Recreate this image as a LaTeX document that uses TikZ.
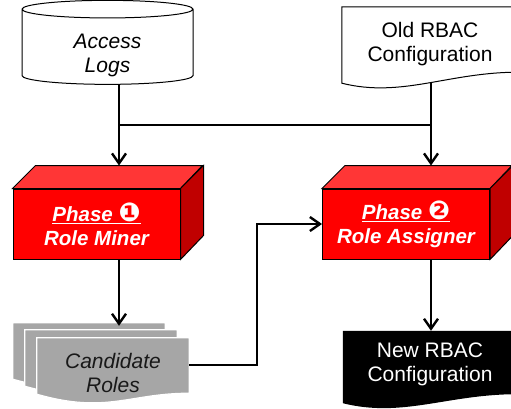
\documentclass[tikz,border=0pt]{standalone}
\usepackage{fontspec}
\setmainfont{Liberation Sans}
\newfontfamily\dingfont{DejaVu Sans}
\usetikzlibrary{shapes.geometric,arrows.meta,calc,backgrounds}
\definecolor{phasefront}{HTML}{FF0000}
\definecolor{phasetop}{HTML}{FF3636}
\definecolor{phaseside}{HTML}{C00000}
\definecolor{sheetgray}{HTML}{A6A6A6}

\begin{document}
\begin{tikzpicture}[x=1pt,y=-1pt,
  txt/.style={align=center,inner sep=0pt,font=\fontsize{21}{24}\selectfont},
  store/.style={txt,cylinder,shape border rotate=90,aspect=0.26,draw,line width=1pt,fill=white,minimum width=171pt,minimum height=84pt},
  doc/.style={txt,minimum width=176pt},
  sheet/.style={txt,minimum width=152pt,minimum height=69pt,font=\fontsize{21}{24}\selectfont\itshape},
  phase/.style={draw,line width=1pt,fill=phasefront,text=white,align=center,inner sep=0pt,minimum width=167pt,minimum height=70pt,font=\fontsize{20.5}{24}\selectfont\bfseries\itshape},
  topface/.style={draw,line width=1pt,fill=phasetop},
  sideface/.style={draw,line width=1pt,fill=phaseside},
  docpath/.style n args={3}{insert path={(#1.north west) -- (#1.north east) -- ($(#1.south east)+(0,#2)$) .. controls +(-70,0) and +(60,15) .. ($(#1.south west)+(0,#3)$) -- cycle}},
  sheetpath/.style={insert path={(#1.north west) -- (#1.north east) -- ($(#1.south east)+(0,-14)$) .. controls +(-60,0) and +(70,20) .. ($(#1.south west)+(0,-13)$) -- cycle}},
  link/.style={line width=2.4pt},
  arr/.style={link,-{Straight Barb[length=10pt,width=14pt]}}]
\useasboundingbox (0,0) rectangle (511,409);
\clip (0,0) rectangle (511,409);

% inputs
\node[store] (logs) at (107.5,47) {\phantom{Access}\\\phantom{Logs}};
\node[txt,font=\fontsize{21}{24}\selectfont\itshape] (logstext) at ($(logs)+(0,8)$) {Access\\Logs};
\node[doc,minimum height=74pt] (old) at (430,44) {Old RBAC\\Configuration};

% the two phases
\newcommand{\phasenum}[1]{{\dingfont\fontsize{26}{24}\selectfont\symbol{#1}}}
\node[phase] (p1) at (96.5,224) {\underline{Phase \phasenum{"2776}}\\Role Miner};
\draw[topface] (p1.north west) -- ++(23,-23) coordinate (p1back) -- ++(167,0) -- (p1.north east) -- cycle;
\draw[sideface] (p1.north east) -- ++(23,-23) -- ++(0,70) -- (p1.south east) -- cycle;
\node[phase] (p2) at (406,224) {\underline{Phase \phasenum{"2777}}\\Role Assigner};
\draw[topface] (p2.north west) -- ++(23,-23) coordinate (p2back) -- ++(167,0) -- (p2.north east) -- cycle;
\draw[sideface] (p2.north east) -- ++(23,-23) -- ++(0,70) -- (p2.south east) -- cycle;

% outputs
\node[sheet] (sheetc) at (89,357.5) {};
\node[sheet] (sheetb) at (101,364.5) {};
\node[sheet,text=black!90] (cand) at (113,372.5) {Candidate\\Roles};
\node[doc,minimum width=174pt,minimum height=67pt,text=white] (new) at (430,364.5) {New RBAC\\Configuration};

\begin{scope}[on background layer]
\draw[line width=1pt,fill=white,docpath={old}{-9}{2}];
\fill[black,docpath={new}{-4}{5}];
\draw[white,line width=1.2pt,fill=sheetgray,sheetpath=sheetc];
\draw[white,line width=1.2pt,fill=sheetgray,sheetpath=sheetb];
\draw[white,line width=1.2pt,fill=sheetgray,sheetpath=cand];
\end{scope}

\coordinate (jl) at (119,125);
\coordinate (jr) at (431,125);
\draw[link] (jl) -- (jr);
\draw[arr] (logs.south -| jl) -- (jl) -- (jl |- p1back);
\draw[arr] ($(jr |- old.south)+(0,2)$) -- (jr) -- (jr |- p2back);
\draw[arr] (p1.south -| jl) -- ($(jl |- sheetc.north)+(0,3)$);
\draw[arr] (p2.south -| jr) -- (jr |- new.north);
\draw[arr] ($(cand.east)+(0,-7.5)$) -- ++(68,0) |- (p2.west);
\end{tikzpicture}
\end{document}
